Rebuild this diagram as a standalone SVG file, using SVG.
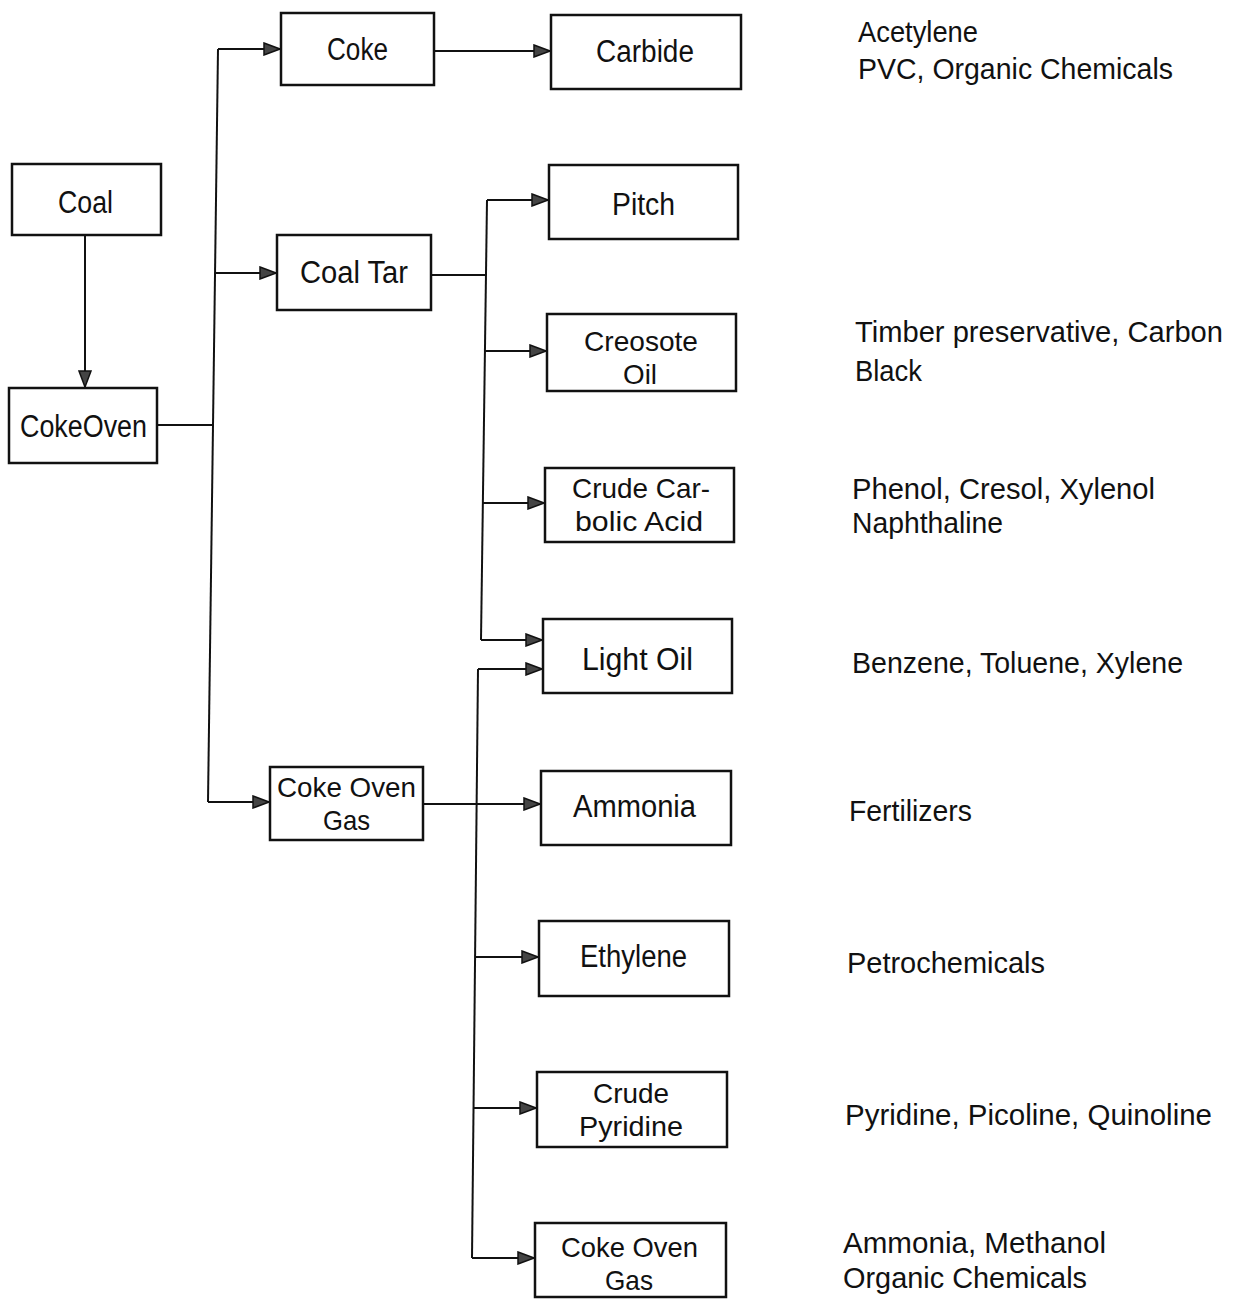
<svg xmlns="http://www.w3.org/2000/svg" width="1241" height="1299" viewBox="0 0 1241 1299">
<style>
.box{fill:#fff;stroke:#111;stroke-width:2.5}
.lbl{font-family:"Liberation Sans",Arial,sans-serif;font-size:31px;fill:#111}
.l2{font-family:"Liberation Sans",Arial,sans-serif;font-size:28px;fill:#111}
.use{font-family:"Liberation Sans",Arial,sans-serif;font-size:30px;fill:#111}
.c{fill:none;stroke:#111;stroke-width:2}
</style>
<defs>
<marker id="ah" markerUnits="userSpaceOnUse" markerWidth="18" markerHeight="14" refX="17" refY="7" orient="auto">
<path d="M1,1 L17,7 L1,13 Z" fill="#444" stroke="#111" stroke-width="1.5"/>
</marker>
</defs>
<rect width="1241" height="1299" fill="#fff"/>

<g id="connectors">
<path class="c" d="M85,235 V387" marker-end="url(#ah)"/>
<path class="c" d="M158,425 H214"/>
<path class="c" d="M218,49 L208,802"/>
<path class="c" d="M218,49 H280" marker-end="url(#ah)"/>
<path class="c" d="M215,273 H276" marker-end="url(#ah)"/>
<path class="c" d="M208,802 H269" marker-end="url(#ah)"/>
<path class="c" d="M434,51 H550" marker-end="url(#ah)"/>
<path class="c" d="M431,275 H486"/>
<path class="c" d="M487,200 L481,640"/>
<path class="c" d="M487,200 H548" marker-end="url(#ah)"/>
<path class="c" d="M485,351 H546" marker-end="url(#ah)"/>
<path class="c" d="M483,503 H544" marker-end="url(#ah)"/>
<path class="c" d="M481,640 H542" marker-end="url(#ah)"/>
<path class="c" d="M478,669 L472,1258"/>
<path class="c" d="M478,669 H542" marker-end="url(#ah)"/>
<path class="c" d="M423,804 H540" marker-end="url(#ah)"/>
<path class="c" d="M475,957 H538" marker-end="url(#ah)"/>
<path class="c" d="M473,1108 H536" marker-end="url(#ah)"/>
<path class="c" d="M472,1258 H534" marker-end="url(#ah)"/>
</g>

<g id="coal"><rect class="box" x="12" y="164" width="149" height="71"/><text class="lbl" x="58" y="213" textLength="55" lengthAdjust="spacingAndGlyphs">Coal</text></g>
<g id="cokeoven"><rect class="box" x="9" y="388" width="148" height="75"/><text class="lbl" x="20" y="437" textLength="127" lengthAdjust="spacingAndGlyphs">CokeOven</text></g>
<g id="coke"><rect class="box" x="281" y="13" width="153" height="72"/><text class="lbl" x="327" y="60" textLength="61" lengthAdjust="spacingAndGlyphs">Coke</text></g>
<g id="coaltar"><rect class="box" x="277" y="235" width="154" height="75"/><text class="lbl" x="300" y="283" textLength="108" lengthAdjust="spacingAndGlyphs">Coal Tar</text></g>
<g id="cokeovengas1"><rect class="box" x="270" y="767" width="153" height="73"/><text class="l2" x="277" y="797" textLength="139" lengthAdjust="spacingAndGlyphs">Coke Oven</text><text class="l2" x="323" y="830" textLength="47" lengthAdjust="spacingAndGlyphs">Gas</text></g>
<g id="carbide"><rect class="box" x="551" y="15" width="190" height="74"/><text class="lbl" x="596" y="62" textLength="98" lengthAdjust="spacingAndGlyphs">Carbide</text></g>
<g id="pitch"><rect class="box" x="549" y="165" width="189" height="74"/><text class="lbl" x="612" y="215" textLength="63" lengthAdjust="spacingAndGlyphs">Pitch</text></g>
<g id="creosote"><rect class="box" x="547" y="314" width="189" height="77"/><text class="l2" x="584" y="351" textLength="114" lengthAdjust="spacingAndGlyphs">Creosote</text><text class="l2" x="623" y="384" textLength="34" lengthAdjust="spacingAndGlyphs">Oil</text></g>
<g id="carbolic"><rect class="box" x="545" y="468" width="189" height="74"/><text class="l2" x="572" y="498" textLength="138" lengthAdjust="spacingAndGlyphs">Crude Car-</text><text class="l2" x="575" y="531" textLength="128" lengthAdjust="spacingAndGlyphs">bolic Acid</text></g>
<g id="lightoil"><rect class="box" x="543" y="619" width="189" height="74"/><text class="lbl" x="582" y="670" textLength="111" lengthAdjust="spacingAndGlyphs">Light Oil</text></g>
<g id="ammonia"><rect class="box" x="541" y="771" width="190" height="74"/><text class="lbl" x="573" y="817" textLength="123" lengthAdjust="spacingAndGlyphs">Ammonia</text></g>
<g id="ethylene"><rect class="box" x="539" y="921" width="190" height="75"/><text class="lbl" x="580" y="967" textLength="107" lengthAdjust="spacingAndGlyphs">Ethylene</text></g>
<g id="pyridine"><rect class="box" x="537" y="1072" width="190" height="75"/><text class="l2" x="593" y="1103" textLength="76" lengthAdjust="spacingAndGlyphs">Crude</text><text class="l2" x="579" y="1136" textLength="104" lengthAdjust="spacingAndGlyphs">Pyridine</text></g>
<g id="cokeovengas2"><rect class="box" x="535" y="1223" width="191" height="74"/><text class="l2" x="561" y="1257" textLength="137" lengthAdjust="spacingAndGlyphs">Coke Oven</text><text class="l2" x="605" y="1290" textLength="48" lengthAdjust="spacingAndGlyphs">Gas</text></g>

<g id="uses">
<text class="use" x="858" y="42" textLength="120" lengthAdjust="spacingAndGlyphs">Acetylene</text>
<text class="use" x="858" y="79" textLength="315" lengthAdjust="spacingAndGlyphs">PVC, Organic Chemicals</text>
<text class="use" x="855" y="342" textLength="368" lengthAdjust="spacingAndGlyphs">Timber preservative, Carbon</text>
<text class="use" x="855" y="381" textLength="67" lengthAdjust="spacingAndGlyphs">Black</text>
<text class="use" x="852" y="499" textLength="303" lengthAdjust="spacingAndGlyphs">Phenol, Cresol, Xylenol</text>
<text class="use" x="852" y="533" textLength="151" lengthAdjust="spacingAndGlyphs">Naphthaline</text>
<text class="use" x="852" y="673" textLength="331" lengthAdjust="spacingAndGlyphs">Benzene, Toluene, Xylene</text>
<text class="use" x="849" y="821" textLength="123" lengthAdjust="spacingAndGlyphs">Fertilizers</text>
<text class="use" x="847" y="973" textLength="198" lengthAdjust="spacingAndGlyphs">Petrochemicals</text>
<text class="use" x="845" y="1125" textLength="367" lengthAdjust="spacingAndGlyphs">Pyridine, Picoline, Quinoline</text>
<text class="use" x="843" y="1253" textLength="263" lengthAdjust="spacingAndGlyphs">Ammonia, Methanol</text>
<text class="use" x="843" y="1288" textLength="244" lengthAdjust="spacingAndGlyphs">Organic Chemicals</text>
</g>
</svg>
